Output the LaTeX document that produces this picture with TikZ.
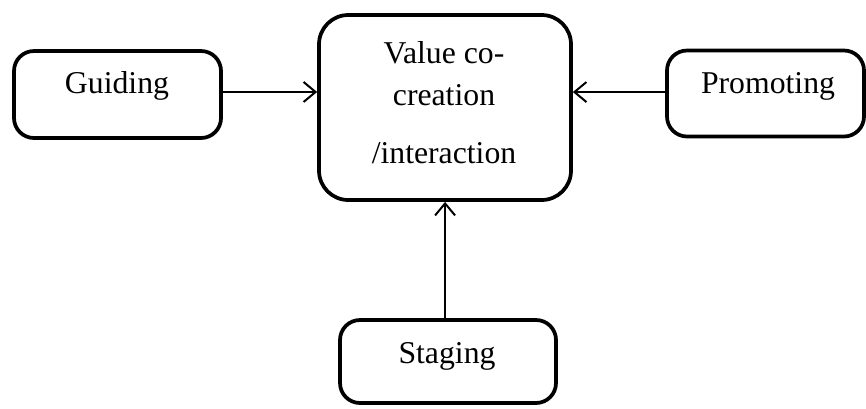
\documentclass[tikz,border=0pt]{standalone}
\usepackage{fontspec}
\setmainfont{Liberation Serif}
\usetikzlibrary{arrows.meta}
\begin{document}
\begin{tikzpicture}[x=0.75pt,y=-0.75pt,
  box/.style={draw, line width=2.8pt, rectangle, rounded corners=#1, inner sep=0pt},
  box/.default=15pt,
  lbl/.style={anchor=base, inner sep=0pt, font=\fontsize{23.8pt}{28pt}\selectfont},
  arr/.style={line width=1.5pt, -{Straight Barb[length=9pt,width=15pt,line width=1.5pt]}}]
\useasboundingbox (0,0) rectangle (866,408);

% boxes
\node[box, minimum width={207*0.75pt}, minimum height={87*0.75pt}] (guide) at (117.5,94.5) {};
\node[box=22pt, minimum width={252*0.75pt}, minimum height={185*0.75pt}] (cen) at (445,107.5) {};
\node[box, minimum width={197*0.75pt}, minimum height={86*0.75pt}] (prom) at (765.5,93.5) {};
\node[box, minimum width={216*0.75pt}, minimum height={83*0.75pt}] (stag) at (448,361.5) {};

% labels
\node[lbl] (tguide) at (117,93) {Guiding};
\node[lbl] (tval) at (444,63) {Value co-};
\node[lbl] (tcre) at (444,105) {creation};
\node[lbl] (tint) at (444,163) {/interaction};
\node[lbl] (tprom) at (768,93) {Promoting};
\node[lbl] (tstag) at (447,363) {Staging};

% connectors
\draw[arr] ([yshift=1.9pt]guide.east) -- ([yshift=1.9pt]guide.east -| cen.west);
\draw[arr] ([yshift=1.1pt]prom.west) -- ([yshift=1.1pt]prom.west -| cen.east);
\draw[arr] ([xshift=-2.2pt]stag.north) -- ([xshift=-2.2pt]stag.north |- cen.south);
\end{tikzpicture}
\end{document}
